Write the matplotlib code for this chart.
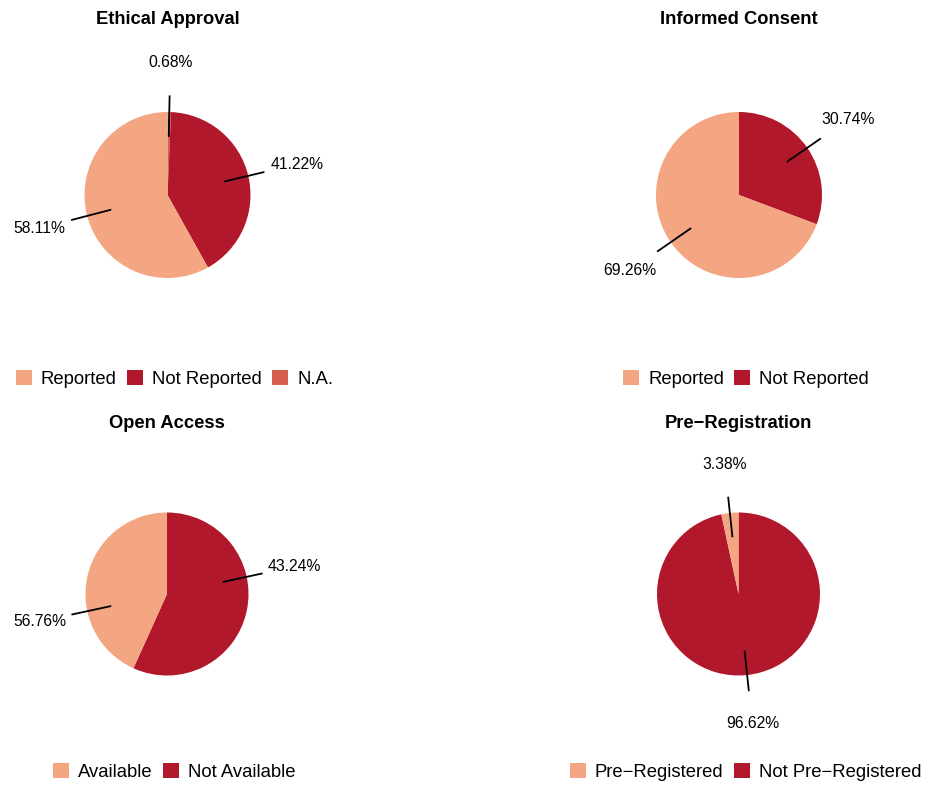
"""
Four pie charts: reporting of ethics approval, consent, open access, pre-registration.
"""
import numpy as np
import matplotlib
matplotlib.use("Agg")
import matplotlib.pyplot as plt
from matplotlib.patches import Patch

plt.rcParams["font.family"] = ["Liberation Sans", "DejaVu Sans"]

LIGHT = "#F4A582"
DARK = "#B2182B"
MID = "#D6604D"

# --- data (legend order) ---
ethical_cats = ["Reported", "Not Reported", "N.A."]
ethical_pct = [58.11, 41.22, 0.68]

consent_cats = ["Reported", "Not Reported"]
consent_pct = [69.26, 30.74]

access_cats = ["Available", "Not Available"]
access_pct = [56.76, 43.24]
# wedges as drawn in the source figure (swapped against the labels)
access_wedges = [43.24, 56.76]

prereg_cats = ["Pre\u2212Registered", "Not Pre\u2212Registered"]
prereg_pct = [3.38, 96.62]

W, H = 927, 785
fig = plt.figure(figsize=(W / 100, H / 100), dpi=100)


def add_panel(cx, cy, r, title, title_y, legend_y, cats, label_pct, wedge_pct, colors):
    hw, hh = 250, 200
    ax = fig.add_axes([(cx - hw) / W, 1 - (cy + hh) / H, 2 * hw / W, 2 * hh / H])
    # slices run clockwise from 12 o'clock, last category first
    ax.pie(wedge_pct[::-1], colors=colors[::-1], startangle=90, counterclock=False,
           radius=1, wedgeprops=dict(linewidth=0), frame=True)
    ax.set_aspect("equal")
    ax.set_xlim(-hw / r, hw / r)
    ax.set_ylim(-hh / r, hh / r)
    ax.axis("off")

    vals = np.array(label_pct[::-1])
    mids = (np.cumsum(vals) - vals / 2) / vals.sum() * 2 * np.pi
    for v, t in zip(vals, mids):
        sx, sy = np.sin(t), np.cos(t)
        ax.plot([0.7 * sx, 1.2 * sx], [0.7 * sy, 1.2 * sy], color="black", lw=1.3,
                solid_capstyle="butt")
        ax.text(1.6 * sx, 1.6 * sy, f"{v:.2f}%", ha="center", va="center", fontsize=11.3)

    ax.text(0, (cy - title_y) / r, title, ha="center", va="center",
            fontsize=13.2, fontweight="bold")

    handles = [Patch(facecolor=c, edgecolor="none", label=l) for c, l in zip(colors, cats)]
    fig.legend(handles=handles, loc="center", ncol=len(cats), frameon=False,
               bbox_to_anchor=((cx + 7) / W, 1 - legend_y / H), fontsize=13.3,
               handlelength=0.86, handleheight=0.86, handletextpad=0.5,
               columnspacing=0.55, borderpad=0, borderaxespad=0)


add_panel(167.5, 195, 83, "Ethical Approval", 20, 379,
          ethical_cats, ethical_pct, ethical_pct, [LIGHT, DARK, MID])
add_panel(739, 195, 83, "Informed Consent", 20, 379,
          consent_cats, consent_pct, consent_pct, [LIGHT, DARK])
add_panel(167, 594, 81.5, "Open Access", 423, 772,
          access_cats, access_pct, access_wedges, [LIGHT, DARK])
add_panel(738.5, 594, 81.5, "Pre\u2212Registration", 423, 772,
          prereg_cats, prereg_pct, prereg_pct, [LIGHT, DARK])

fig.savefig("out.png", dpi=100, facecolor="white")
